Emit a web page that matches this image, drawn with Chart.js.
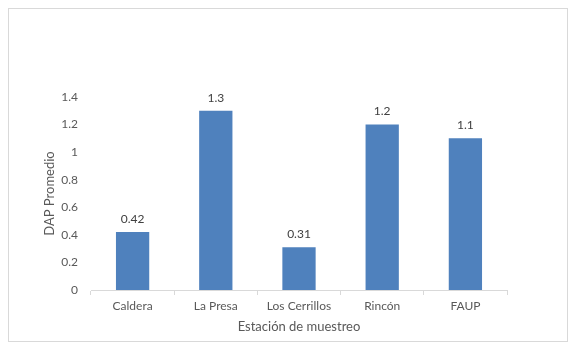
<!DOCTYPE html>
<html>
<head>
<meta charset="utf-8">
<script src="https://cdn.jsdelivr.net/npm/chart.js@4"></script>
<style>
  html, body { margin: 0; padding: 0; background: #fff; }
  #wrap { width: 577px; height: 353px; }
</style>
</head>
<body>
<div id="wrap"><canvas id="chart" width="577" height="353"></canvas></div>
<script>
// data
const estaciones = ['Caldera', 'La Presa', 'Los Cerrillos', 'Rincón', 'FAUP'];
const dapPromedio = [0.42, 1.3, 0.31, 1.2, 1.1];
const yTicks = [0, 0.2, 0.4, 0.6, 0.8, 1, 1.2, 1.4];

const textColor = '#595959';
const fontFam = 'Lato, "Liberation Sans", sans-serif';

// outer frame like the office chart box
const frame = {
  id: 'frame',
  beforeDraw(chart) {
    const ctx = chart.ctx;
    ctx.save();
    ctx.fillStyle = '#fff';
    ctx.fillRect(0, 0, chart.width, chart.height);
    ctx.strokeStyle = '#d9d9d9';
    ctx.lineWidth = 1;
    ctx.strokeRect(8.5, 8.5, 559, 333);
    ctx.restore();
  }
};

// value labels above bars
const valueLabels = {
  id: 'valueLabels',
  afterDatasetsDraw(chart) {
    const ctx = chart.ctx;
    const meta = chart.getDatasetMeta(0);
    ctx.save();
    ctx.font = '12px ' + fontFam;
    ctx.fillStyle = '#404040';
    ctx.textAlign = 'center';
    ctx.textBaseline = 'middle';
    meta.data.forEach((bar, i) => {
      ctx.fillText(String(dapPromedio[i]), bar.x, bar.y - 13);
    });
    ctx.restore();
  }
};

let ctx = document.getElementById('chart').getContext('2d');

let barChart = new Chart(ctx, {
  type: 'bar',
  data: {
    labels: estaciones,
    datasets: [{
      label: 'DAP Promedio',
      data: dapPromedio,
      backgroundColor: '#4F81BD',
      categoryPercentage: 1,
      barPercentage: 0.4
    }]
  },
  options: {
    responsive: false,
    animation: false,
    devicePixelRatio: 1,
    layout: { padding: { top: 97, right: 70, bottom: 0, left: 0 } },
    plugins: {
      legend: { display: false },
      tooltip: { enabled: false }
    },
    scales: {
      x: {
        afterFit(scale) { scale.height = 63; },
        grid: {
          display: true,
          drawOnChartArea: false,
          drawTicks: true,
          tickLength: 5,
          offset: true,
          color: '#d9d9d9'
        },
        border: { display: true, color: '#d9d9d9' },
        ticks: {
          color: textColor,
          padding: 4,
          maxRotation: 0,
          font: { family: fontFam, size: 12 }
        },
        title: {
          display: true,
          text: 'Estación de muestreo',
          color: textColor,
          padding: { top: 0, bottom: 18 },
          font: { family: fontFam, size: 13 }
        }
      },
      y: {
        min: 0,
        max: 1.4,
        afterFit(scale) { scale.width = 91; },
        afterBuildTicks(scale) { scale.ticks = yTicks.map(v => ({ value: v })); },
        grid: { display: false, drawTicks: false },
        border: { display: false },
        ticks: {
          color: textColor,
          padding: 13,
          font: { family: fontFam, size: 12 },
          callback: v => String(v)
        },
        title: {
          display: true,
          text: 'DAP Promedio',
          color: textColor,
          padding: { top: 42, bottom: 0 },
          font: { family: fontFam, size: 13 }
        }
      }
    }
  },
  plugins: [frame, valueLabels]
});
</script>
</body>
</html>
